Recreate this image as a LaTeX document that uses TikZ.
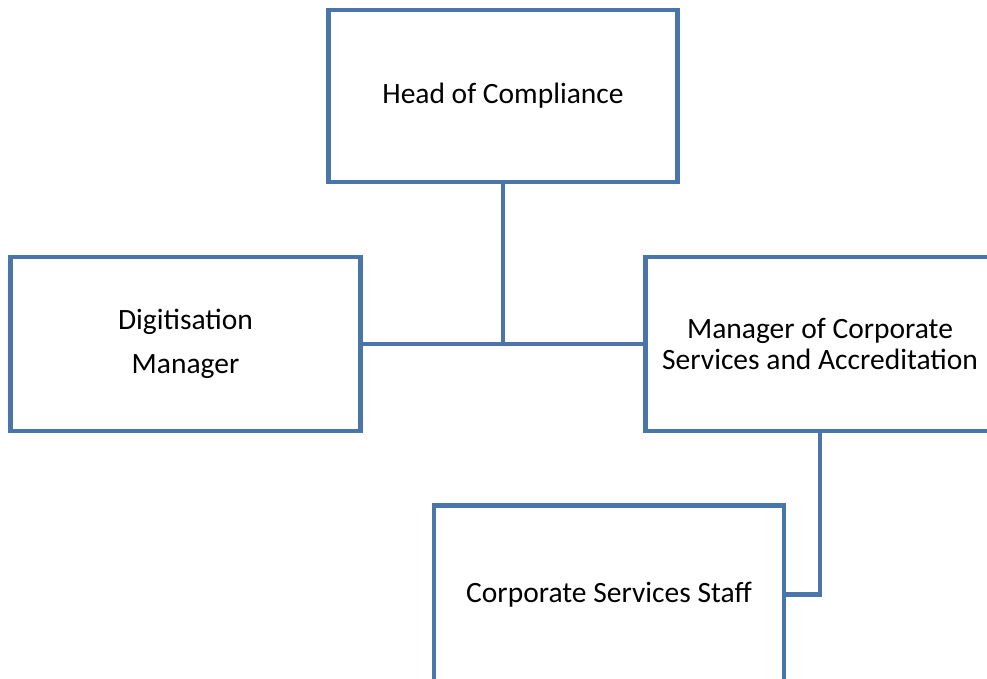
\documentclass[tikz,border=0pt]{standalone}
\usepackage{fontspec}
\setmainfont{Carlito}
\definecolor{boxblue}{HTML}{4A75AB}
\begin{document}
\begin{tikzpicture}[x=1pt,y=-1pt,
  orgbox/.style={draw=boxblue, line width=4.5pt, rectangle, align=center,
    inner sep=0pt, font=\fontsize{29.5}{31.5}\selectfont, text=black},
  link/.style={draw=boxblue, line width=4.5pt}]
\useasboundingbox (0,0) rectangle (987,679);
\clip (0,0) rectangle (987,679);
\node[orgbox, minimum width=349pt, minimum height=172pt] (head) at (503,96) {Head of Compliance};
\node[orgbox, minimum width=350pt, minimum height=174pt] (dig) at (185.5,344) {Digitisation\\[13pt]Manager};
\node[orgbox, minimum width=349pt, minimum height=174pt] (mgr) at (820,344) {Manager of Corporate\\Services and Accreditation};
\node[orgbox, minimum width=350pt, minimum height=178pt] (staff) at (609,594.5) {Corporate Services Staff};
\draw[link] (head.south) -- (head.south |- dig.east);
\draw[link] (dig.east) -- (mgr.west);
\draw[link] (mgr.south) |- (staff.east);
\end{tikzpicture}
\end{document}
